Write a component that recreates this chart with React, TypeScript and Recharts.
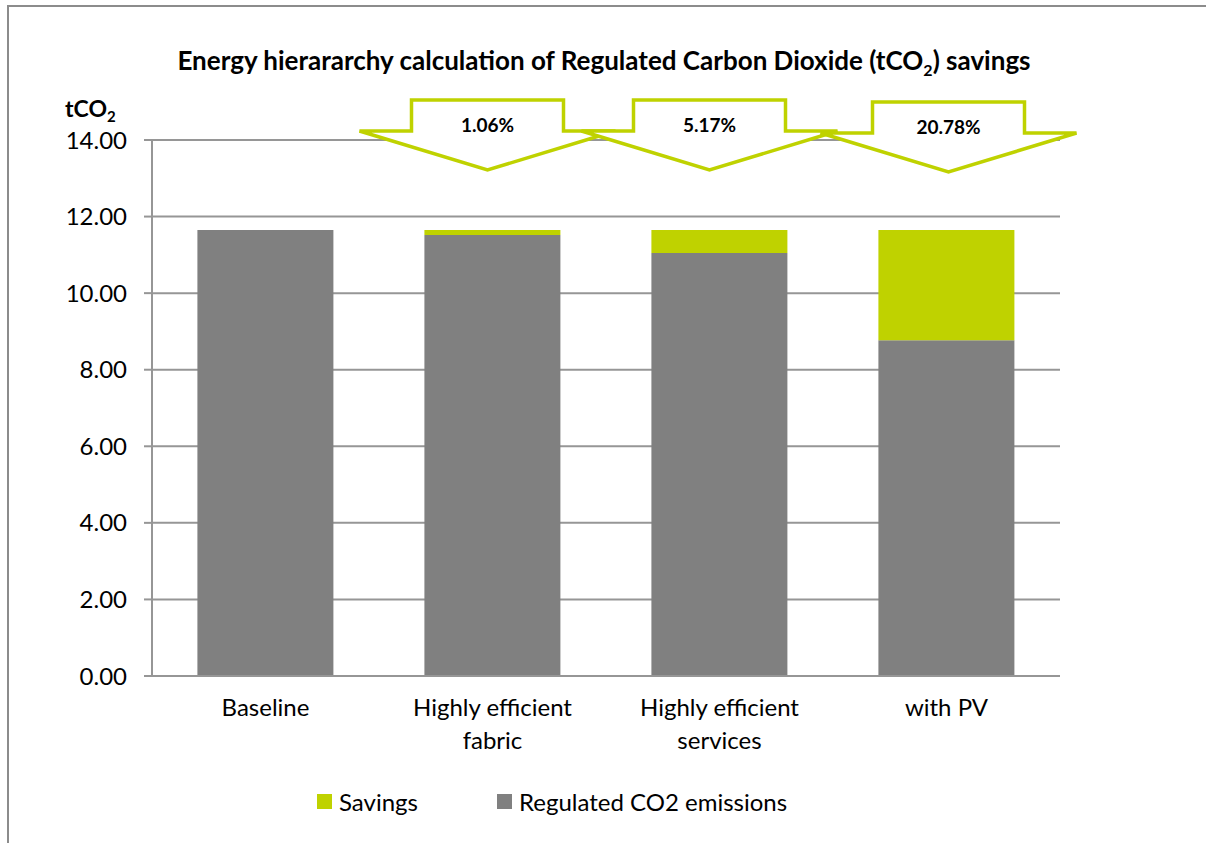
import React from 'react';
import { BarChart, Bar, XAxis, YAxis, CartesianGrid, Legend, ReferenceDot } from 'recharts';

const categories = ['Baseline', 'Highly efficient fabric', 'Highly efficient services', 'with PV'];
const emissions = [11.65, 11.52, 11.05, 8.77];
const savings = [0, 0.13, 0.6, 2.88];
const savingLabels = ['', '1.06%', '5.17%', '20.78%'];
const yTicks = [0, 2, 4, 6, 8, 10, 12, 14];
const boundaryTicks = [0, 1, 2, 3, 4];
const seriesNames = { savings: 'Savings', emissions: 'Regulated CO2 emissions' };

const FONT = 'Lato, "Noto Sans", sans-serif';
const GREEN = '#BFD200';
const GRAY = '#808080';
const LINE = '#969696';

const data = categories.map((name, i) => ({
  name,
  idx: i,
  emissions: emissions[i],
  savings: savings[i],
}));

const arrowOffsets = [
  { dx: 0, dy: 0 },
  { dx: -5, dy: 0 },
  { dx: -10, dy: 0 },
  { dx: 2, dy: 2 },
];

const CategoryTick = (props: any) => {
  const { x, y, payload } = props;
  const words = String(payload.value).split(' ');
  const lines = words.length > 2 ? [words.slice(0, 2).join(' '), words.slice(2).join(' ')] : [String(payload.value)];
  return (
    <text x={x} y={y} textAnchor="middle" fill="#000" fontSize={24} fontFamily={FONT}>
      {lines.map((l, i) => (
        <tspan key={i} x={x} dy={i === 0 ? 40 : 33}>
          {l}
        </tspan>
      ))}
    </text>
  );
};

const ArrowShape = (props: any) => {
  const { cx, cy, label, dx, dy } = props;
  if (cx == null || cy == null) return null;
  const x = cx + dx;
  const y = cy + dy;
  const pts = [
    [-76, -40],
    [76, -40],
    [76, -9],
    [128, -9],
    [0, 30],
    [-128, -9],
    [-76, -9],
  ]
    .map(([a, b]) => `${x + a},${y + b}`)
    .join(' ');
  return (
    <g>
      <polygon points={pts} fill="#fff" stroke={GREEN} strokeWidth={3.5} strokeLinejoin="miter" />
      <text x={x} y={y - 8} textAnchor="middle" fontSize={19} fontWeight="bold" fontFamily={FONT} fill="#000">
        {label}
      </text>
    </g>
  );
};

const LegendContent = () => (
  <div style={{ display: 'flex', alignItems: 'center', height: 30, fontFamily: FONT, fontSize: 24, color: '#000' }}>
    <div style={{ display: 'flex', alignItems: 'center', width: 180 }}>
      <span style={{ display: 'inline-block', width: 15, height: 15, background: GREEN, marginRight: 7 }} />
      <span>{seriesNames.savings}</span>
    </div>
    <div style={{ display: 'flex', alignItems: 'center' }}>
      <span style={{ display: 'inline-block', width: 15, height: 15, background: GRAY, marginRight: 7 }} />
      <span>{seriesNames.emissions}</span>
    </div>
  </div>
);

export default function App() {
  return (
    <div style={{ position: 'absolute', left: 0, top: 0, width: 1206, height: 843, overflow: 'hidden', background: '#fff' }}>
      <div
        style={{
          position: 'absolute',
          left: 7,
          top: 5,
          width: 1300,
          height: 1000,
          border: '2px solid #8c8c8c',
        }}
      />
      <div
        style={{
          position: 'absolute',
          left: 0,
          top: 45,
          width: 1208,
          textAlign: 'center',
          fontFamily: FONT,
          fontWeight: 'bold',
          fontSize: 26,
          lineHeight: '30px',
          color: '#000',
        }}
      >
        Energy hierararchy calculation of Regulated Carbon Dioxide (tCO
        <span style={{ fontSize: 16, position: 'relative', top: 6 }}>2</span>) savings
      </div>
      <div
        style={{
          position: 'absolute',
          left: 65,
          top: 95,
          fontFamily: FONT,
          fontWeight: 'bold',
          fontSize: 23,
          lineHeight: '26px',
          color: '#000',
        }}
      >
        tCO<span style={{ fontSize: 15, position: 'relative', top: 5 }}>2</span>
      </div>
      <div style={{ position: 'absolute', left: 0, top: 0 }}>
        <BarChart
          width={1206}
          height={843}
          data={data}
          margin={{ top: 140, right: 146, left: 0, bottom: 36 }}
          barCategoryGap="20%"
        >
          <CartesianGrid vertical={false} stroke={LINE} strokeWidth={2} />
          <XAxis
            xAxisId="edges"
            type="number"
            dataKey="idx"
            domain={[0, 4]}
            ticks={boundaryTicks}
            tick={false}
            tickSize={8}
            tickLine={{ stroke: LINE, strokeWidth: 2 }}
            axisLine={false}
            height={1}
            allowDataOverflow
          />
          <XAxis
            dataKey="name"
            interval={0}
            tickLine={false}
            tickSize={0}
            tickMargin={0}
            axisLine={{ stroke: LINE, strokeWidth: 2 }}
            tick={<CategoryTick />}
            height={100}
          />
          <YAxis
            width={152}
            domain={[0, 14]}
            ticks={yTicks}
            tickFormatter={(v: number) => v.toFixed(2)}
            tickSize={8}
            tickMargin={17}
            tick={{ fill: '#000', fontSize: 24, fontFamily: FONT }}
            axisLine={{ stroke: LINE, strokeWidth: 2 }}
            tickLine={{ stroke: LINE, strokeWidth: 2 }}
          />
          <Bar dataKey="emissions" name={seriesNames.emissions} stackId="a" fill={GRAY} isAnimationActive={false} />
          <Bar dataKey="savings" name={seriesNames.savings} stackId="a" fill={GREEN} isAnimationActive={false} />
          {categories.map((c, i) =>
            savingLabels[i] ? (
              <ReferenceDot
                key={c}
                x={c}
                y={14}
                r={1}
                ifOverflow="visible"
                shape={(p: any) => (
                  <ArrowShape cx={p.cx} cy={p.cy} label={savingLabels[i]} dx={arrowOffsets[i].dx} dy={arrowOffsets[i].dy} />
                )}
              />
            ) : null
          )}
          <Legend
            verticalAlign="bottom"
            content={<LegendContent />}
            wrapperStyle={{ left: 317, top: 786, width: 'auto' }}
          />
        </BarChart>
      </div>
    </div>
  );
}
